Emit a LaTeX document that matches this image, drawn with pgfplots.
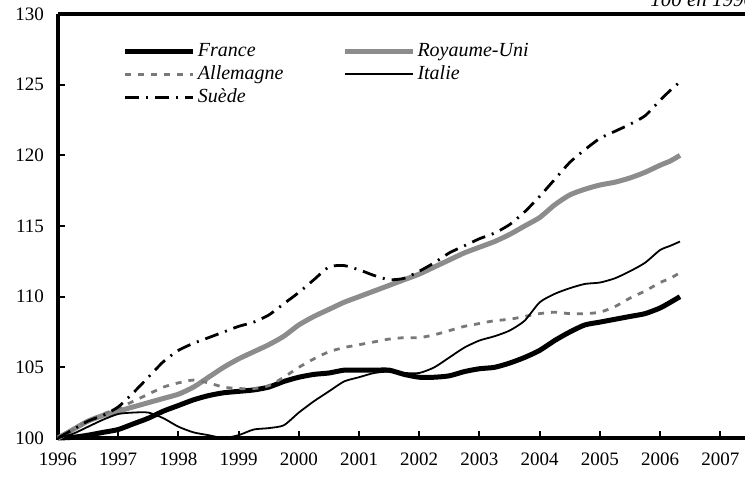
\documentclass[border=0pt]{standalone}
\usepackage{fontspec}
\setmainfont{Liberation Serif}
\usepackage{pgfplots}
\pgfplotsset{compat=1.18}
\definecolor{ukgray}{RGB}{140,140,140}
\definecolor{degray}{RGB}{120,120,120}
\begin{document}
\begin{tikzpicture}
\begin{axis}[
  scale only axis, width=343.5pt, height=212pt,
  xmin=1996, xmax=2007.41, ymin=100, ymax=130,
  xtick={1996,1997,...,2007}, ytick={100,105,...,130},
  /pgf/number format/assume math mode=true,
  /pgf/number format/1000 sep={},
  xticklabel style={font=\fontsize{9.5}{11}\selectfont, yshift=-4pt},
  yticklabel style={font=\fontsize{9.5}{11}\selectfont, xshift=-3.5pt},
  tick align=inside, tick pos=left,
  major tick length=3.5pt,
  every tick/.style={black, line width=1pt},
  axis line style={draw=none},
  clip=false,
  legend columns=2, legend cell align=left,
  legend style={at={(rel axis cs:0.094,0.94)}, anchor=north west, draw=none, fill=none,
    inner sep=0pt, font=\fontsize{10}{12}\selectfont\itshape, row sep=0pt,
    /tikz/every even column/.append style={column sep=28.5pt},
    nodes={inner sep=1pt, text height=7.3pt, text depth=2.2pt}},
  legend image code/.code={\draw[#1] (0pt,0pt) -- (34pt,0pt);},
]
\draw[line width=1.8pt] (rel axis cs:0,1) -- (rel axis cs:0,0) -- (rel axis cs:1,0);
\draw[line width=1.8pt] (rel axis cs:0,1) -- (rel axis cs:1,1);

% France
\addplot[black, line width=2.5pt, smooth, tension=0.4] coordinates {
(1996,100) (1996.25,100.05) (1996.5,100.2) (1996.75,100.4) (1997,100.6) (1997.25,101.0) (1997.5,101.4) (1997.75,101.9)
(1998,102.3) (1998.25,102.7) (1998.5,103.0) (1998.75,103.2) (1999,103.3) (1999.25,103.4) (1999.5,103.6) (1999.75,104.0)
(2000,104.3) (2000.25,104.5) (2000.5,104.6) (2000.75,104.8) (2001,104.8) (2001.25,104.8) (2001.5,104.8) (2001.75,104.5)
(2002,104.3) (2002.25,104.3) (2002.5,104.4) (2002.75,104.7) (2003,104.9) (2003.25,105.0) (2003.5,105.3) (2003.75,105.7)
(2004,106.2) (2004.25,106.9) (2004.5,107.5) (2004.75,108.0) (2005,108.2) (2005.25,108.4) (2005.5,108.6) (2005.75,108.8)
(2006,109.2) (2006.17,109.6) (2006.33,110.0)};
\addlegendentry{France}

% Royaume-Uni
\addplot[ukgray, line width=2.5pt, smooth, tension=0.4] coordinates {
(1996,100) (1996.25,100.6) (1996.5,101.2) (1996.75,101.6) (1997,101.9) (1997.25,102.2) (1997.5,102.5) (1997.75,102.8)
(1998,103.1) (1998.25,103.6) (1998.5,104.3) (1998.75,105.0) (1999,105.6) (1999.25,106.1) (1999.5,106.6) (1999.75,107.2)
(2000,108.0) (2000.25,108.6) (2000.5,109.1) (2000.75,109.6) (2001,110.0) (2001.25,110.4) (2001.5,110.8) (2001.75,111.2)
(2002,111.6) (2002.25,112.1) (2002.5,112.6) (2002.75,113.1) (2003,113.5) (2003.25,113.9) (2003.5,114.4) (2003.75,115.0)
(2004,115.6) (2004.25,116.5) (2004.5,117.2) (2004.75,117.6) (2005,117.9) (2005.25,118.1) (2005.5,118.4) (2005.75,118.8)
(2006,119.3) (2006.17,119.6) (2006.33,120.0)};
\addlegendentry{Royaume-Uni}

% Allemagne
\addplot[degray, line width=1.4pt, dash pattern=on 3pt off 3.5pt, smooth, tension=0.4] coordinates {
(1996,100) (1996.25,100.6) (1996.5,101.2) (1996.75,101.7) (1997,102.1) (1997.25,102.6) (1997.5,103.1) (1997.75,103.6)
(1998,103.9) (1998.25,104.1) (1998.5,103.9) (1998.75,103.6) (1999,103.5) (1999.25,103.5) (1999.5,103.7) (1999.75,104.3)
(2000,105.0) (2000.25,105.6) (2000.5,106.1) (2000.75,106.4) (2001,106.6) (2001.25,106.8) (2001.5,107.0) (2001.75,107.1)
(2002,107.1) (2002.25,107.3) (2002.5,107.6) (2002.75,107.9) (2003,108.1) (2003.25,108.3) (2003.5,108.4) (2003.75,108.6)
(2004,108.8) (2004.25,108.9) (2004.5,108.8) (2004.75,108.8) (2005,108.9) (2005.25,109.3) (2005.5,109.9) (2005.75,110.4)
(2006,111.0) (2006.17,111.3) (2006.33,111.7)};
\addlegendentry{Allemagne}

% Italie
\addplot[black, line width=0.9pt, smooth, tension=0.4] coordinates {
(1996,100) (1996.25,100.3) (1996.5,100.8) (1996.75,101.3) (1997,101.7) (1997.25,101.8) (1997.5,101.8) (1997.75,101.4)
(1998,100.8) (1998.25,100.4) (1998.5,100.2) (1998.75,100.0) (1999,100.2) (1999.25,100.6) (1999.5,100.7) (1999.75,100.9)
(2000,101.8) (2000.25,102.6) (2000.5,103.3) (2000.75,104.0) (2001,104.3) (2001.25,104.6) (2001.5,104.7) (2001.75,104.6)
(2002,104.6) (2002.25,105.0) (2002.5,105.7) (2002.75,106.4) (2003,106.9) (2003.25,107.2) (2003.5,107.6) (2003.75,108.3)
(2004,109.6) (2004.25,110.2) (2004.5,110.6) (2004.75,110.9) (2005,111.0) (2005.25,111.3) (2005.5,111.8) (2005.75,112.4)
(2006,113.3) (2006.17,113.6) (2006.33,113.9)};
\addlegendentry{Italie}

% Suede
\addplot[black, line width=1.4pt, dash pattern=on 7pt off 3.5pt on 1pt off 3.5pt, smooth, tension=0.4] coordinates {
(1996,100) (1996.25,100.6) (1996.5,101.2) (1996.75,101.6) (1997,102.2) (1997.25,103.2) (1997.5,104.3) (1997.75,105.4)
(1998,106.2) (1998.25,106.7) (1998.5,107.1) (1998.75,107.5) (1999,107.9) (1999.25,108.2) (1999.5,108.7) (1999.75,109.5)
(2000,110.3) (2000.25,111.2) (2000.5,112.1) (2000.75,112.2) (2001,111.9) (2001.25,111.5) (2001.5,111.2) (2001.75,111.3)
(2002,111.8) (2002.25,112.4) (2002.5,113.1) (2002.75,113.6) (2003,114.1) (2003.25,114.5) (2003.5,115.1) (2003.75,116.0)
(2004,117.1) (2004.25,118.3) (2004.5,119.5) (2004.75,120.4) (2005,121.2) (2005.25,121.7) (2005.5,122.2) (2005.75,122.8)
(2006,123.9) (2006.17,124.6) (2006.33,125.2)};
\addlegendentry{Suède}
\end{axis}
\node[anchor=base west, inner sep=0pt, font=\fontsize{10.5}{12}\selectfont\itshape] at (296pt,216pt) {100 en 1996};
\pgfresetboundingbox
\path[use as bounding box] (-29pt,-23pt) rectangle (343.5pt,219pt);
\end{tikzpicture}
\end{document}
